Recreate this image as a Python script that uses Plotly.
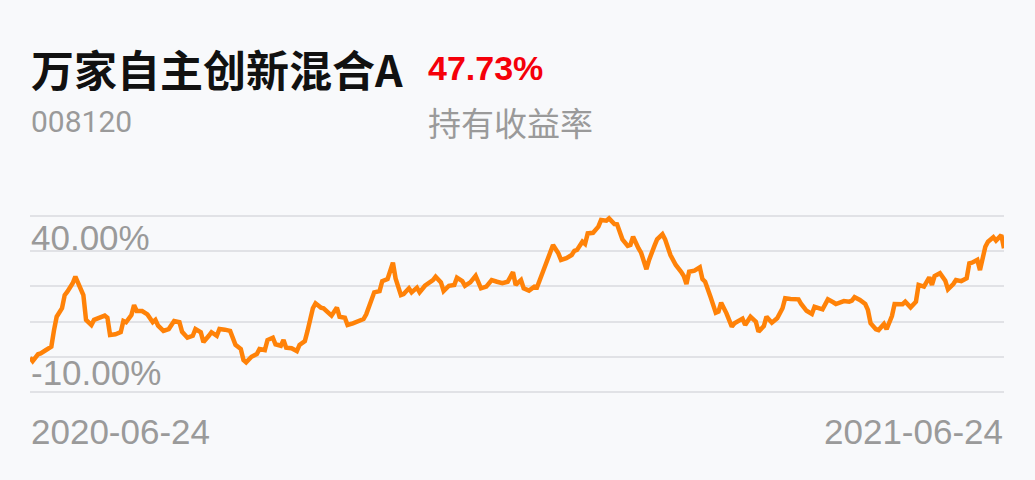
import pandas as pd
import plotly.graph_objects as go

fund_name = "万家自主创新混合A"
fund_code = "008120"
hold_return = "47.73%"
hold_label = "持有收益率"
start_date = "2020-06-24"

# day offsets from start_date and cumulative return (%)
days = [0, 1, 3, 4, 6, 8, 9, 10, 12, 13, 14, 16, 17, 18, 20, 21, 23, 24, 26, 28,
        29, 30, 32, 34, 35, 36, 38, 39, 40, 42, 44, 46, 47, 48, 50, 52, 54, 56, 57, 59,
        61, 62, 64, 65, 67, 68, 70, 71, 73, 75, 77, 79, 80, 81, 83, 85, 86, 88, 89, 91,
        92, 94, 95, 96, 98, 100, 101, 103, 104, 106, 107, 109, 110, 112, 113, 115, 116, 118, 119, 121,
        123, 125, 126, 128, 129, 131, 132, 134, 136, 137, 139, 140, 142, 143, 145, 146, 148, 151, 152, 154,
        155, 157, 159, 160, 162, 163, 165, 167, 169, 171, 173, 175, 177, 179, 181, 182,
        184, 185, 187, 189, 190, 192, 194, 196, 198, 199, 201, 203, 204, 205, 207, 208, 209, 211, 213, 214,
        216, 217, 219, 220, 222, 224, 225, 226, 228, 229, 231, 232, 234, 235, 237, 238, 240, 242, 244, 245,
        246, 247, 249, 251, 252, 253, 255, 257, 258, 259, 261, 263, 264, 266, 267, 268, 270, 272, 273, 275,
        276, 278, 280, 282, 283, 285, 288, 289, 291, 293, 294, 297, 299, 301, 302, 305, 307, 308, 309, 311,
        313, 314, 315, 317, 318, 320, 321, 323, 324, 327, 328, 330, 332, 333, 335, 337, 338, 339, 341, 343,
        344, 346, 347, 349, 351, 352, 353, 355, 356, 358, 359, 361, 362, 364, 365]

returns = [-10.3, -11.9, -8.7, -8.3, -6.7, -5.1, 2.7, 9.0, 13.0, 19.2, 20.8, 24.8, 27.9, 24.8, 19.2, 7.5, 5.1, 7.5, 8.5, 9.5,
           8.5, 0.4, 0.7, 1.7, 7.0, 6.4, 9.8, 14.5, 11.7, 11.7, 10.1, 6.4, 7.5, 4.8, 2.3, 3.2, 7.0, 6.4, 1.9, -0.9,
           0.0, 3.2, 1.7, -3.0, 0.0, 1.7, 0.0, 3.2, 2.9, 2.3, -4.3, -6.2, -11.4, -12.5, -9.9, -8.6, -6.2, -6.7, -2.0, -0.9,
           -4.0, -4.7, -2.0, -5.6, -5.9, -7.2, -4.3, -2.5, 2.3, 13.0, 15.3, 13.3, 13.0, 10.6, 9.5, 13.3, 9.0, 8.5, 5.1, 5.9,
           7.1, 7.9, 10.1, 16.9, 20.5, 21.1, 25.8, 26.8, 34.5, 27.1, 19.2, 19.7, 22.4, 20.5, 22.7, 20.5, 23.6, 26.3, 27.9, 25.2,
           21.1, 23.6, 24.0, 27.4, 25.8, 23.6, 25.2, 28.3, 22.4, 23.2, 26.3, 25.5, 24.8, 25.5, 30.0, 24.0,
           26.3, 22.4, 21.3, 23.2, 22.9, 29.5, 35.8, 42.8, 38.9, 35.8, 36.6, 38.1, 40.1, 40.5, 44.4, 43.3, 48.3, 48.6, 51.5, 54.6,
           54.3, 55.4, 52.7, 52.6, 45.5, 42.4, 42.8, 46.7, 41.3, 39.2, 31.4, 35.8, 42.4, 45.5, 47.9, 45.5, 38.1, 33.4, 30.2, 28.2,
           24.4, 30.2, 30.7, 32.3, 26.7, 25.5, 18.4, 10.9, 11.4, 15.6, 10.6, 4.3, 5.9, 7.8, 8.1, 5.1, 9.0, 6.7, 1.9, 4.6,
           9.0, 6.2, 8.3, 13.0, 17.7, 17.4, 17.2, 15.0, 11.8, 10.3, 13.7, 12.5, 17.2, 15.8, 15.0, 16.4, 16.1, 16.6, 18.2, 16.9,
           15.0, 12.2, 5.9, 3.1, 2.7, 5.6, 3.1, 9.3, 15.0, 14.9, 16.1, 13.4, 16.1, 24.0, 23.2, 27.6, 24.0, 28.2, 29.5, 26.0,
           21.9, 24.4, 26.3, 25.8, 27.1, 34.2, 34.5, 35.8, 31.0, 42.0, 44.4, 46.5, 44.9, 47.5, 41.3]

grid_vals = [-26.67, -10.0, 6.67, 23.33, 40.0, 56.67]
label_vals = [40.0, -10.0]

dates = pd.Timestamp(start_date) + pd.to_timedelta(days, unit="D")

W, H = 1035, 480
L, R, T, B = 30, 31, 214, 86
plot_h = H - T - B


def py(y):
    # pixel row -> paper y
    return (H - B - y) / plot_h


GRAY = "#9a9a9a"
fig = go.Figure()
fig.add_trace(go.Scatter(
    x=dates, y=returns, mode="lines",
    line=dict(color="#ff8208", width=4.5),
    cliponaxis=False, hoverinfo="skip"
))

ann = [
    dict(text=fund_name, x=0, y=py(68), xanchor="left", yanchor="middle",
         font=dict(family="Noto Sans CJK SC", size=43, color="#111111", weight="bold")),
    dict(text=hold_return, x=(427 - L) / (W - L - R), y=py(68), xanchor="left", yanchor="middle",
         font=dict(family="Liberation Sans Narrow, Liberation Sans", size=34, color="#f5000a", weight="bold")),
    dict(text=fund_code, x=0, y=py(121), xanchor="left", yanchor="middle",
         font=dict(family="Roboto", size=30, color=GRAY)),
    dict(text=hold_label, x=(427 - L) / (W - L - R), y=py(122), xanchor="left", yanchor="middle",
         font=dict(family="Noto Sans CJK SC", size=33, color=GRAY)),
    dict(text=dates[0].strftime("%Y-%m-%d"), x=0, y=py(431), xanchor="left", yanchor="middle",
         font=dict(family="Liberation Sans", size=35, color=GRAY)),
    dict(text=dates[-1].strftime("%Y-%m-%d"), x=1, y=py(431), xanchor="right", yanchor="middle",
         font=dict(family="Liberation Sans", size=35, color=GRAY)),
]
for a in ann:
    a.update(xref="paper", yref="paper", showarrow=False, borderpad=0)

# y labels: upper one sits on its gridline, lower one hangs under it
fig.add_annotation(text=f"{label_vals[0]:.2f}%", xref="paper", yref="y", x=0, y=label_vals[0],
                   xanchor="left", yanchor="bottom", yshift=-7, showarrow=False, borderpad=0,
                   font=dict(family="Liberation Sans", size=35, color=GRAY))
fig.add_annotation(text=f"{label_vals[1]:.2f}%", xref="paper", yref="y", x=0, y=label_vals[1],
                   xanchor="left", yanchor="top", yshift=5, showarrow=False, borderpad=0,
                   font=dict(family="Liberation Sans", size=35, color=GRAY))

fig.update_layout(
    width=W, height=H,
    margin=dict(l=L, r=R, t=T, b=B),
    paper_bgcolor="#f8f9fb", plot_bgcolor="#f8f9fb",
    showlegend=False,
    annotations=list(fig.layout.annotations) + ann,
    xaxis=dict(range=[dates[0], dates[-1]], showgrid=False, showticklabels=False,
               zeroline=False, showline=False, ticks=""),
    yaxis=dict(range=[-27.45, 57.45], tickvals=grid_vals, showticklabels=False,
               gridcolor="#e1e2e6", gridwidth=1.5, zeroline=False, showline=False, ticks=""),
)

# drop the browser's default body margin so the figure fills the window
fig.write_html("out.html", config={"displayModeBar": False},
               post_script="document.body.style.margin='0';document.body.style.overflow='hidden';")
